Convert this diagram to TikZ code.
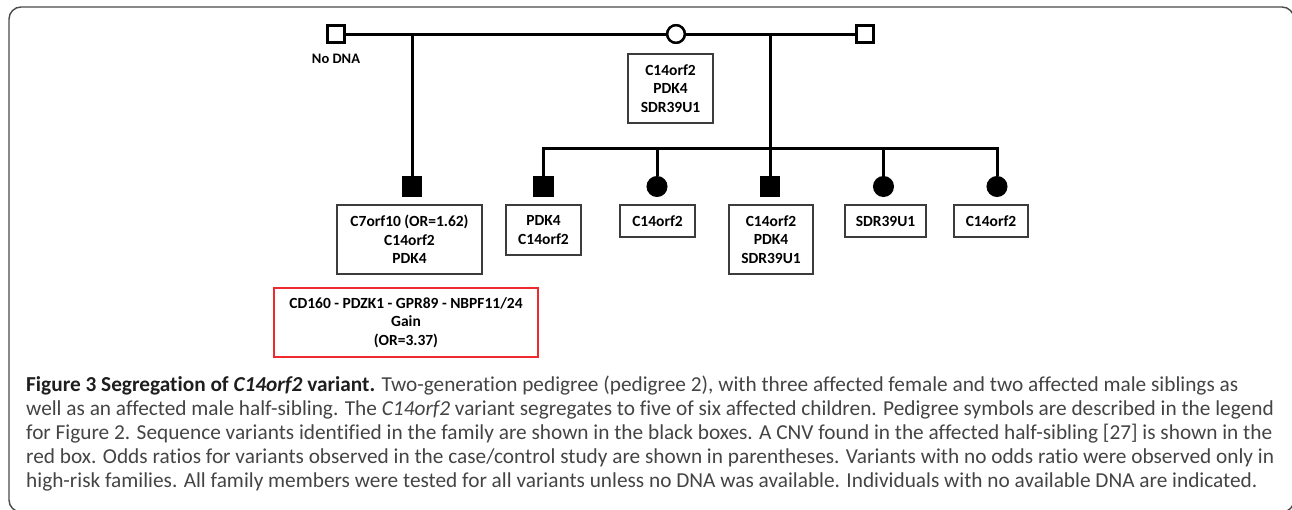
\documentclass[tikz,border=0pt]{standalone}
\usepackage{fontspec}
\setmainfont{Carlito}[Ligatures=NoCommon]
\definecolor{boxgray}{HTML}{3C3C3C}
\definecolor{cnvred}{HTML}{EE2A2E}
\definecolor{captext}{HTML}{444444}
\definecolor{capbold}{HTML}{1E1E1E}
\definecolor{framecol}{HTML}{4A4A4A}
\begin{document}
\begin{tikzpicture}[x=1pt,y=-1pt,
  lbl/.style={font=\bfseries\fontsize{15.5}{18.7}\selectfont, align=center},
  varbox/.style={lbl, draw=boxgray, line width=1.3pt, inner sep=0pt, text=black},
  cnvbox/.style={varbox, draw=cnvred},
  pedline/.style={line width=3pt},
  male/.style={rectangle, draw=black, fill=white, line width=2.4pt, minimum size=17pt, inner sep=0pt},
  female/.style={circle, draw=black, fill=white, line width=2.4pt, minimum size=17.6pt, inner sep=0pt},
  affmale/.style={male, fill=black, minimum size=18.4pt},
  afffemale/.style={female, fill=black, minimum size=18.6pt},
  capline/.style={anchor=base west, inner sep=0pt, text=captext,
    font=\fontsize{21.3}{24}\selectfont}
]
\useasboundingbox (0,0) rectangle (1292,509);

% outer frame of the figure panel
\draw[framecol, line width=1.4pt, rounded corners=12pt] (9,7) rectangle (1294,512);

% parents
\node[male]   (pf) at (336,34) {};
\node[female] (mo) at (676,34) {};
\node[male]   (f2) at (865,34) {};
\node[lbl] (nodna) at (336,59) {\fontsize{14.5}{17}\selectfont No DNA};

% children
\node[affmale]   (c1) at (412,186.5) {};
\node[affmale]   (c2) at (543.5,186.5) {};
\node[afffemale] (c3) at (657,186.5) {};
\node[affmale]   (c4) at (770,186.5) {};
\node[afffemale] (c5) at (883.5,186.5) {};
\node[afffemale] (c6) at (997,186.5) {};

% junction points on the mating and sibship lines
\coordinate (j1) at (pf -| c1);
\coordinate (j2) at (pf -| c4);
\coordinate (sl) at (543.5,148);
\coordinate (sr) at (997,148);

% mating lines and lines of descent
\draw[pedline] (pf.east) -- (mo.west);
\draw[pedline] (mo.east) -- (f2.west);
\draw[pedline] (j1) -- (c1.north);
\draw[pedline] (j2) -- (c4.north);
\draw[pedline] (c2.north) -- (sl) -- (sr) -- (c6.north);
\draw[pedline] (c3 |- sl) -- (c3.north);
\draw[pedline] (c5 |- sl) -- (c5.north);

% redraw parent symbols on top of the lines
\node[male]   at (pf) {};
\node[female] at (mo) {};
\node[male]   at (f2) {};

% sequence variants
\node[varbox, minimum width=85pt, minimum height=69pt] (bm) at (670.5,88.5)
  {C14orf2\\PDK4\\SDR39U1};
\node[varbox, minimum width=145pt, minimum height=69pt] (b1) at (409.5,239.5)
  {C7orf10 (OR=1.62)\\C14orf2\\PDK4};
\node[varbox, minimum width=75pt, minimum height=50pt] (b2) at (543.5,230)
  {PDK4\\C14orf2};
\node[varbox, minimum width=75pt, minimum height=32pt] (b3) at (657.5,221)
  {C14orf2};
\node[varbox, minimum width=84pt, minimum height=69pt] (b4) at (771,239.5)
  {C14orf2\\PDK4\\SDR39U1};
\node[varbox, minimum width=81pt, minimum height=32pt] (b5) at (885.5,221)
  {SDR39U1};
\node[varbox, minimum width=74pt, minimum height=32pt] (b6) at (991,221)
  {C14orf2};

% copy number variant
\node[cnvbox, minimum width=264pt, minimum height=69pt] (cnv) at (406,322.5)
  {CD160 - PDZK1 - GPR89 - NBPF11/24\\Gain\\(OR=3.37)};

% caption
\node[capline] (cap1) at (26,391)
  {\textcolor{capbold}{\bfseries Figure 3 Segregation of \textit{C14orf2} variant.} Two-generation pedigree (pedigree 2), with three affected female and two affected male siblings as};
\node[capline] (cap2) at (26,415)
  {well as an affected male half-sibling. The \textit{C14orf2} variant segregates to five of six affected children. Pedigree symbols are described in the legend};
\node[capline] (cap3) at (26,439)
  {for Figure 2. Sequence variants identified in the family are shown in the black boxes. A CNV found in the affected half-sibling [27] is shown in the};
\node[capline] (cap4) at (26,463)
  {red box. Odds ratios for variants observed in the case/control study are shown in parentheses. Variants with no odds ratio were observed only in};
\node[capline] (cap5) at (26,487)
  {high-risk families. All family members were tested for all variants unless no DNA was available. Individuals with no available DNA are indicated.};
\end{tikzpicture}
\end{document}
